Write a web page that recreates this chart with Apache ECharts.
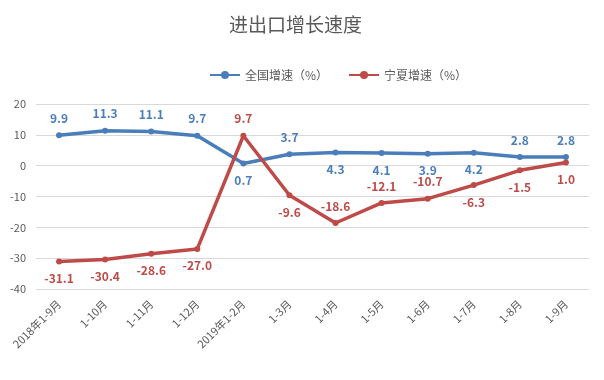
<!DOCTYPE html>
<html><head><meta charset="utf-8">
<script src="https://cdn.jsdelivr.net/npm/echarts@6/dist/echarts.min.js"></script>
<style>html,body{margin:0;padding:0;background:#fff}#c{width:604px;height:380px}</style>
</head><body><div id="c"></div>
<script>
var categories = ['2018年1-9月','1-10月','1-11月','1-12月','2019年1-2月','1-3月','1-4月','1-5月','1-6月','1-7月','1-8月','1-9月'];
var nationalValues = [9.9, 11.3, 11.1, 9.7, 0.7, 3.7, 4.3, 4.1, 3.9, 4.2, 2.8, 2.8];
var ningxiaValues = [-31.1, -30.4, -28.6, -27.0, 9.7, -9.6, -18.6, -12.1, -10.7, -6.3, -1.5, 1.0];
var yTicks = [-40, -30, -20, -10, 0, 10, 20];
var nationalLabelPos = ['top','top','top','top','bottom','top','bottom','bottom','bottom','bottom','top','top'];
var ningxiaLabelPos = ['bottom','bottom','bottom','bottom','top','bottom','top','top','top','bottom','bottom','bottom'];

var FONT = '"Noto Sans CJK SC", "Microsoft YaHei", sans-serif';
var BLUE = '#4A7EBB', RED = '#BE4B48';
function build(vals, pos) {
  return vals.map(function (v, i) {
    return { value: v, label: { position: pos[i] } };
  });
}
var chart = echarts.init(document.getElementById('c'), null, { renderer: 'canvas' });
chart.setOption({
  animation: false,
  textStyle: { fontFamily: FONT },
  title: {
    text: '进出口增长速度', left: 224, top: 10,
    textStyle: { fontSize: 19, fontWeight: 'normal', color: '#595959', fontFamily: FONT }
  },
  legend: {
    top: 64, left: 204, itemWidth: 30, itemHeight: 10, itemGap: 20,
    textStyle: { fontSize: 12, color: '#595959', fontFamily: FONT },
    data: ['全国增速（%）', '宁夏增速（%）']
  },
  grid: { left: 36, right: 15, top: 104, bottom: 91 },
  xAxis: {
    type: 'category', data: categories, boundaryGap: true,
    axisLine: { show: false }, axisTick: { show: false },
    axisLabel: { rotate: 45, interval: 0, color: '#595959', fontSize: 11, margin: 13, fontFamily: FONT }
  },
  yAxis: {
    type: 'value', min: yTicks[0], max: yTicks[yTicks.length - 1], interval: 10,
    axisLine: { show: false }, axisTick: { show: false },
    axisLabel: { color: '#595959', fontSize: 11, margin: 10, fontFamily: FONT },
    splitLine: { lineStyle: { color: '#D9D9D9', width: 1 } }
  },
  series: [
    {
      name: '全国增速（%）', type: 'line', data: build(nationalValues, nationalLabelPos),
      symbol: 'circle', symbolSize: 6, color: BLUE,
      lineStyle: { width: 3.5, color: BLUE }, itemStyle: { color: BLUE },
      label: { show: true, color: BLUE, fontSize: 12, fontWeight: 'bold', distance: 8,
        formatter: function (p) { return p.value.toFixed(1); } }
    },
    {
      name: '宁夏增速（%）', type: 'line', data: build(ningxiaValues, ningxiaLabelPos),
      symbol: 'circle', symbolSize: 6, color: RED,
      lineStyle: { width: 3.5, color: RED }, itemStyle: { color: RED },
      label: { show: true, color: RED, fontSize: 12, fontWeight: 'bold', distance: 8,
        formatter: function (p) { return p.value.toFixed(1); } }
    }
  ]
});
</script></body></html>
